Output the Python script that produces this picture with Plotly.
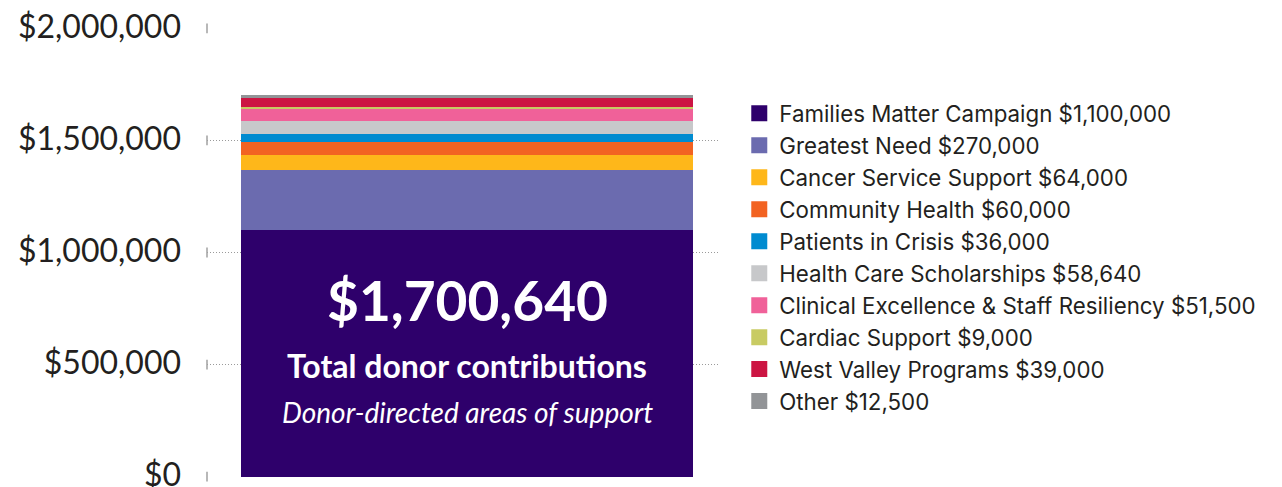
import plotly.graph_objects as go

categories = [
    "Families Matter Campaign",
    "Greatest Need",
    "Cancer Service Support",
    "Community Health",
    "Patients in Crisis",
    "Health Care Scholarships",
    "Clinical Excellence & Staff Resiliency",
    "Cardiac Support",
    "West Valley Programs",
    "Other",
]
values = [1100000, 270000, 64000, 60000, 36000, 58640, 51500, 9000, 39000, 12500]
colors = [
    "#2e006b", "#6b6baf", "#feb71a", "#f26322", "#008bd0",
    "#c7c8ca", "#f06199", "#c8cb63", "#cc1543", "#929497",
]
tick_values = [0, 500000, 1000000, 1500000, 2000000]
tick_labels = ["$0", "$500,000", "$1,000,000", "$1,500,000", "$2,000,000"]
total = sum(values)

TEXT = "#231f20"
X_LEFT, X_RIGHT = -0.5752, 0.5575
fig = go.Figure()

for cat, val, col in zip(categories, values, colors):
    fig.add_trace(go.Bar(
        x=[0], y=[val], width=1, name=cat, marker=dict(color=col, line=dict(width=0)),
        showlegend=False, hoverinfo="skip",
    ))

for cat, val, col in zip(categories, values, colors):
    fig.add_trace(go.Scatter(
        x=[None], y=[None], mode="markers", name=f"{cat} ${val:,}",
        marker=dict(symbol="square", size=19, color=col), showlegend=True,
    ))

# small end ticks on gridlines
fig.add_trace(go.Scatter(
    x=[X_LEFT] * len(tick_values), y=tick_values, mode="markers",
    marker=dict(symbol="line-ns", size=7, line=dict(width=1.5, color="#a0a0a0")),
    showlegend=False, hoverinfo="skip", cliponaxis=False,
))

fig.update_layout(
    barmode="stack",
    width=1274, height=487,
    margin=dict(l=199, r=563, t=20, b=18, autoexpand=False),
    paper_bgcolor="white", plot_bgcolor="white",
    font=dict(family="Lato", color=TEXT),
    xaxis=dict(range=[X_LEFT, X_RIGHT], visible=False, fixedrange=True),
    yaxis=dict(
        range=[-1500, 2001500], tickvals=tick_values, ticktext=tick_labels,
        tickfont=dict(size=32, color=TEXT, family="Lato"),
        showgrid=True, gridcolor="#9a9a9a", griddash="1px,2px", gridwidth=1,
        zeroline=False, showline=False, ticks="", ticklabelstandoff=25,
        ticklabelshift=-2,
        ticklabeloverflow="allow", automargin=False,
        fixedrange=True,
    ),
    legend=dict(
        x=1.0396, xanchor="left", y=0.857, yanchor="top",
        font=dict(size=22.3, color=TEXT, family="Inter"),
        traceorder="normal", itemsizing="trace", tracegroupgap=0,
        bgcolor="rgba(0,0,0,0)",
    ),
    annotations=[
        dict(x=0, y=790000, xref="x", yref="y", text=f"<b>${total:,}</b>",
             showarrow=False, font=dict(size=55, color="white", family="Lato")),
        dict(x=0, y=495000, xref="x", yref="y", text="<b>Total donor contributions</b>",
             showarrow=False, font=dict(size=32, color="white", family="Lato")),
        dict(x=0, y=290000, xref="x", yref="y", text="<i>Donor-directed areas of support</i>",
             showarrow=False, font=dict(size=28, color="white", family="Lato")),
    ],
)

fig.write_html("out.html")
